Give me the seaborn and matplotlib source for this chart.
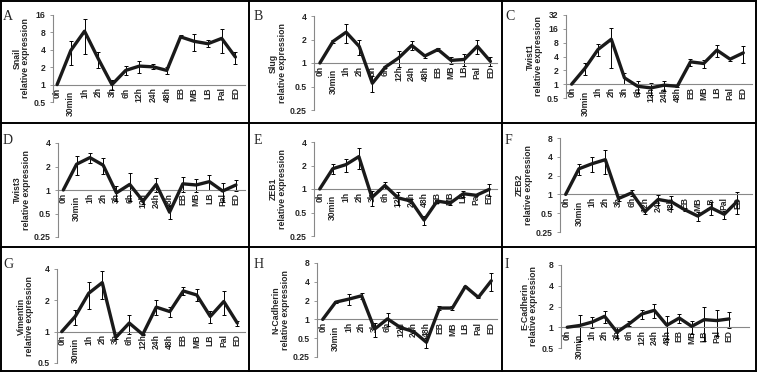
import numpy as np
import pandas as pd
import matplotlib
matplotlib.use('Agg')
import matplotlib.pyplot as plt
import matplotlib.transforms as mtransforms
from matplotlib.lines import Line2D
import seaborn as sns

# time points / stages
timepoints = ['0h', '30min', '1h', '2h', '3h', '6h', '12h', '24h', '48h',
              'EB', 'MB', 'LB', 'Pal', 'ED']

# relative expression (mean) and error per gene
snail = [1, 3.9, 8.4, 2.8, 1.0, 1.76, 2.09, 2.03, 1.76, 6.7, 5.6, 5.1, 6.3, 3.0]
snail_sd = [0, 1.7, 5.0, 0.9, 0.2, 0.3, 0.5, 0.2, 0.25, 0.4, 1.8, 0.7, 2.8, 0.7]

slug = [1, 1.89, 2.48, 1.63, 0.55, 0.89, 1.16, 1.68, 1.23, 1.49, 1.08, 1.11, 1.64, 1.05]
slug_sd = [0, 0.1, 0.65, 0.35, 0.13, 0.03, 0.28, 0.22, 0.08, 0.05, 0.1, 0.2, 0.33, 0.14]

twist1 = [1, 2.2, 5.7, 9.5, 1.37, 0.9, 0.83, 0.95, 0.9, 3.06, 2.82, 5.5, 3.5, 4.8]
twist1_sd = [0, 0.65, 1.6, 7.3, 0.35, 0.25, 0.25, 0.25, 0.05, 0.55, 0.6, 1.6, 0.3, 1.9]

twist3 = [1, 2.14, 2.6, 2.08, 0.92, 1.18, 0.72, 1.18, 0.52, 1.2, 1.16, 1.28, 0.97, 1.16]
twist3_sd = [0, 0.6, 0.4, 0.5, 0.2, 0.45, 0.06, 0.24, 0.1, 0.27, 0.23, 0.27, 0.27, 0.2]

zeb1 = [1, 1.82, 2.05, 2.6, 0.78, 1.11, 0.77, 0.70, 0.40, 0.70, 0.66, 0.87, 0.83, 0.99]
zeb1_sd = [0, 0.27, 0.4, 0.8, 0.17, 0.12, 0.15, 0.04, 0.05, 0.03, 0.04, 0.07, 0.02, 0.17]

zeb2 = [1, 2.57, 3.1, 3.6, 0.86, 1.06, 0.53, 0.83, 0.76, 0.57, 0.45, 0.61, 0.48, 0.78]
zeb2_sd = [0, 0.5, 0.85, 1.5, 0.07, 0.13, 0.04, 0.15, 0.17, 0.03, 0.08, 0.14, 0.07, 0.3]

vimentin = [1, 1.4, 2.34, 2.96, 0.88, 1.21, 0.94, 1.72, 1.56, 2.46, 2.25, 1.4, 1.95, 1.21]
vimentin_sd = [0, 0.23, 0.68, 0.9, 0.03, 0.25, 0.02, 0.28, 0.17, 0.22, 0.3, 0.19, 0.5, 0.07]

ncad = [1, 1.89, 2.11, 2.39, 0.70, 1.02, 0.74, 0.64, 0.43, 1.52, 1.52, 3.37, 2.25, 4.15]
ncad_sd = [0, 0.05, 0.4, 0.3, 0.18, 0.23, 0.04, 0.03, 0.08, 0.1, 0.1, 0.05, 0.05, 1.3]

ecad = [1, 1.06, 1.19, 1.44, 0.85, 1.13, 1.56, 1.76, 1.07, 1.36, 1.03, 1.29, 1.25, 1.32]
ecad_sd = [0, 0.43, 0.23, 0.3, 0.16, 0.1, 0.23, 0.4, 0.4, 0.2, 0.22, 0.65, 0.5, 0.35]

genes = ['Snail', 'Slug', 'Twist1', 'Twist3', 'ZEB1', 'ZEB2',
         'Vimentin', 'N-Cadherin', 'E-Cadherin']
means = [snail, slug, twist1, twist3, zeb1, zeb2, vimentin, ncad, ecad]
sds = [snail_sd, slug_sd, twist1_sd, twist3_sd, zeb1_sd, zeb2_sd,
       vimentin_sd, ncad_sd, ecad_sd]
letters = ['A', 'B', 'C', 'D', 'E', 'F', 'G', 'H', 'I']

# long table for seaborn
rows = []
for g, m, s in zip(genes, means, sds):
    for i, tp in enumerate(timepoints):
        rows.append({'gene': g, 'idx': i, 'tp': tp, 'expr': m[i], 'sd': s[i]})
df = pd.DataFrame(rows)

sns.set_style('white')
plt.rcParams['font.family'] = ['Liberation Sans', 'DejaVu Sans']
plt.rcParams['font.weight'] = 'bold'

W, H = 757, 372
fig = plt.figure(figsize=(W / 100, H / 100), dpi=100)

# axes boxes in pixels: left, top, right, bottom
boxes = [(53, 15, 245, 102), (314, 16, 497, 110), (566, 15, 752, 98),
         (58, 143, 245, 237), (314, 142, 497, 236), (560, 138, 752, 232),
         (57, 269, 245, 363), (317, 263, 497, 357), (561, 265, 749, 348)]
ylims = [(0.5, 16), (0.25, 4), (0.5, 32), (0.25, 4), (0.25, 4), (0.25, 8),
         (0.5, 4), (0.25, 8), (0.5, 8)]
xlims = [(-0.3, 13.7), (-0.45, 13.5), (-0.43, 13.66), (-0.4, 13.68),
         (-0.44, 13.59), (-0.43, 14.1), (-0.35, 13.57), (-0.44, 13.44),
         (-0.5, 14.6)]

for k, gene in enumerate(genes):
    l, t, r, b = boxes[k]
    ax = fig.add_axes([l / W, 1 - b / H, (r - l) / W, (b - t) / H])
    sub = df[df['gene'] == gene]
    ax.errorbar(sub['idx'], sub['expr'], yerr=sub['sd'], fmt='none',
                ecolor='black', elinewidth=0.7, capsize=1.6, capthick=0.7,
                zorder=2)
    sns.lineplot(data=sub, x='idx', y='expr', color='#1a1a1a', linewidth=2.4,
                 ax=ax, zorder=3)
    ax.set_yscale('log', base=2)
    ax.spines['top'].set_visible(False)
    ax.spines['right'].set_visible(False)
    ax.spines['bottom'].set_position(('data', 1))
    for sp in ['left', 'bottom']:
        ax.spines[sp].set_color('#888888')
        ax.spines[sp].set_linewidth(0.8)
    lo, hi = ylims[k]
    ax.set_ylim(lo, hi)
    ax.set_xlim(*xlims[k])
    ticks = []
    v = lo
    while v <= hi * 1.001:
        ticks.append(v)
        v *= 2
    ax.set_yticks(ticks)
    ax.set_yticklabels([('%g' % v) for v in ticks], fontsize=6.2,
                       fontweight='bold')
    ax.yaxis.set_minor_locator(matplotlib.ticker.NullLocator())
    ax.set_xticks(range(len(timepoints)))
    ax.set_xticklabels(timepoints, rotation=90, fontsize=6.2,
                       fontweight='bold', va='top')
    ax.tick_params(axis='x', length=0, pad=2)
    ax.tick_params(axis='y', length=2.5, width=0.6, color='#888888', pad=3,
                   left=True)
    ax.patch.set_alpha(0)
    # Excel staggers the long label a bit lower
    lab = ax.get_xticklabels()[1]
    lab.set_transform(lab.get_transform() +
                      mtransforms.ScaledTranslation(0, -2.5 / 72, fig.dpi_scale_trans))
    ax.set_xlabel('')
    ax.set_ylabel(gene + '\nrelative expression', fontsize=6.3,
                  fontweight='bold', labelpad=2, linespacing=1.0)
    col = k % 3
    row = k // 3
    fig.text((3 + col * 251) / W, 1 - (20 + row * 124) / H, letters[k],
             family=['Liberation Serif', 'DejaVu Serif'], fontsize=10,
             fontweight='normal', ha='left', va='baseline')

# panel frames
lw = 1.4
for x in [1, 249, 502, 756]:
    fig.add_artist(Line2D([x / W, x / W], [0, 1], color='black', lw=lw,
                          transform=fig.transFigure))
for y in [1, 123, 247, 371]:
    fig.add_artist(Line2D([0, 1], [1 - y / H, 1 - y / H], color='black', lw=lw,
                          transform=fig.transFigure))

fig.savefig('out.png', dpi=100)
